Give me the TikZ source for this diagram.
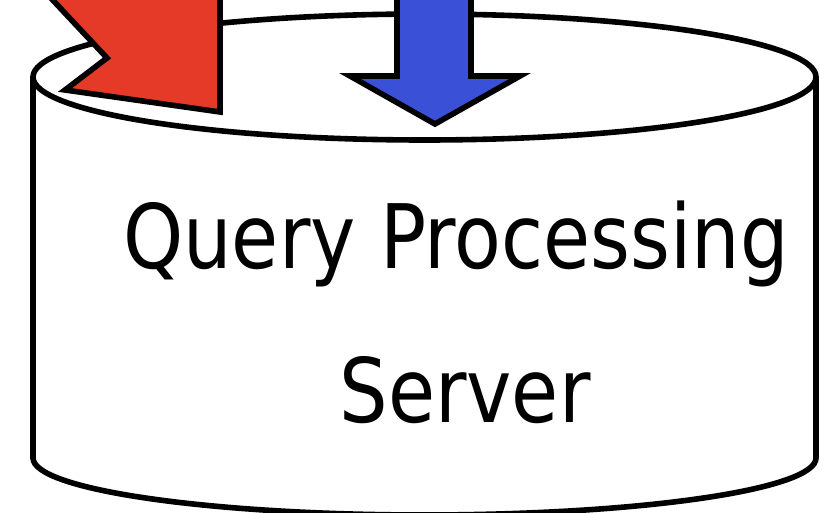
\documentclass[tikz,border=0pt]{standalone}
\usepackage{fontspec}
\setmainfont{DejaVu Sans}[FakeStretch=0.86]
\usepackage{tikz}
\definecolor{arrowred}{RGB}{229,58,40}
\definecolor{arrowblue}{RGB}{58,80,214}

\begin{document}
\begin{tikzpicture}[x=1pt, y=-1pt, line width=5.6pt,
    lbl/.style={inner sep=0pt, anchor=base, font=\fontsize{89pt}{100pt}\selectfont},
    blockarrow/.style={draw=black, line width=5.6pt, line join=miter}]
  \clip (0,0) rectangle (834,513);
  \fill[white] (0,0) rectangle (834,513);

  \draw[fill=white] (33,77) -- (33,458)
        arc[start angle=180, end angle=360, x radius=391.5pt, y radius=57pt] -- (816,77);
  \draw (424.5,77) ellipse[x radius=391.5pt, y radius=63pt];

  \filldraw[blockarrow, fill=arrowred]
        (48,-5) -- (107,58) -- (65,90) -- (220,112) -- (220,-5) -- cycle;
  \filldraw[blockarrow, fill=arrowblue]
        (397,-5) -- (397,76) -- (350,76) -- (435,124) -- (520,76) -- (471,76) -- (471,-5) -- cycle;

  \node[lbl] (qps) at (456,268) {Query Processing};
  \node[lbl] (srv) at (465,422) {Server};
\end{tikzpicture}
\end{document}
